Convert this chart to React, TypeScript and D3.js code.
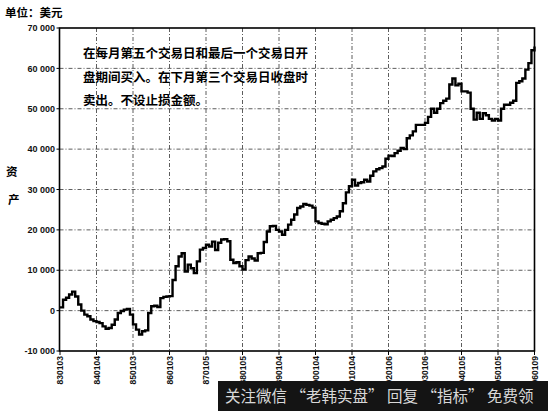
import React from "react";
import * as d3 from "d3";

const title = "单位：美元";
const yTitle = ["资", "产"];
const noteLines = [
  "在每月第五个交易日和最后一个交易日开",
  "盘期间买入。在下月第三个交易日收盘时",
  "卖出。不设止损金额。",
];
const watermark = "关注微信 “老韩实盘” 回复 “指标” 免费领";

const xTickLabels = [
  "830103", "840104", "850103", "860103", "870105", "880105", "890104",
  "900104", "910104", "920106", "930106", "940105", "950105", "960109",
];
const yTicks = [-10000, 0, 10000, 20000, 30000, 40000, 50000, 60000, 70000];

// monthly equity, Jan 1983 .. Jan 1996
const equity = [
  800, 2700, 3200, 4000, 4700, 3500, 1500, 0, -1000, -1400, -2200, -2600,
  -2800, -3100, -3900, -4500, -4300, -3500, -2200, -600, -100, 250, 400, -1000,
  -3400, -4700, -5900, -5100, -4900, -600, 1100, 1200, 900, 3100, 3400, 3500,
  3600, 7600, 11000, 13400, 14200, 9700, 11400, 10500, 9300, 12200, 15100, 15500,
  16300, 15900, 17100, 15000, 16800, 17600, 17700, 17200, 12600, 11800, 12000, 11000,
  10200, 12500, 13400, 12900, 12400, 14200, 14300, 17000, 19600, 20900, 21000, 20000,
  19600, 18800, 20000, 21300, 22500, 23800, 25400, 25800, 26400, 26200, 26000, 25500,
  22100, 21700, 21500, 21400, 22100, 22500, 22900, 23300, 24600, 26600, 29300, 30800,
  32400, 31000, 31600, 31800, 32400, 32000, 33400, 34500, 35000, 35300, 35700, 37600,
  38400, 38300, 39000, 39600, 40300, 40000, 42700, 43400, 44400, 46000, 46000, 46000,
  46500, 48000, 50000, 49000, 50000, 51400, 52000, 52500, 56000, 57500, 55800, 56200,
  54300, 54300, 54000, 50000, 47300, 49000, 47500, 48900, 48400, 47500, 47100, 47500,
  47100, 50000, 51000, 51000, 51500, 52000, 56400, 56800, 57500, 59700, 61300, 64500,
  65400,
];

const fmt = (v: number) => {
  if (v === 0) return "0";
  const s = Math.abs(v).toString();
  const t = s.slice(0, s.length - 3) + " " + s.slice(s.length - 3);
  return (v < 0 ? "-" : "") + t;
};

export default function App() {
  const W = 548, H = 411;
  const L = 59.5, R = 534.5, T = 28, B = 351;
  const x = d3.scaleLinear().domain([0, equity.length - 1]).range([L + 0.5, R]);
  const y = d3.scaleLinear().domain([-10000, 70000]).range([B, T]);
  const line = d3
    .line<number>()
    .x((_, i) => x(i))
    .y((d) => y(d))
    .curve(d3.curveStepAfter);
  const xTickPos = xTickLabels.map((_, i) => x(i * 12));
  const numFont = "'Liberation Sans', Arial, sans-serif";
  const cjk = "'Noto Sans CJK SC', sans-serif";
  const grid = "#333";
  return (
    <svg width={W} height={H} style={{ position: "absolute", left: 0, top: 0, background: "#fff" }}>
      <rect x={0} y={0} width={W} height={H} fill="#fff" />
      {/* grid */}
      {yTicks.slice(1, -1).map((v) => (
        <line key={"gy" + v} x1={L} x2={R} y1={y(v)} y2={y(v)} stroke={grid} strokeWidth={0.8} strokeDasharray="4,2,1,2" />
      ))}
      {xTickPos.slice(1, -1).map((px, i) => (
        <line key={"gx" + i} x1={px} x2={px} y1={T} y2={B} stroke={grid} strokeWidth={0.8} strokeDasharray="4,2,1,2" />
      ))}
      {/* frame */}
      <rect x={L} y={T} width={R - L} height={B - T} fill="none" stroke="#000" strokeWidth={1.6} />
      {/* y ticks */}
      {yTicks.map((v) => (
        <g key={"yt" + v}>
          <line x1={L - 3} x2={L} y1={y(v)} y2={y(v)} stroke="#000" strokeWidth={1} />
          <text x={55} y={y(v)} dy="0.35em" textAnchor="end" fontFamily={numFont} fontWeight="bold" fontSize={9} fill="#111">
            {fmt(v)}
          </text>
        </g>
      ))}
      {/* x ticks */}
      {xTickLabels.map((lab, i) => (
        <g key={"xt" + i}>
          <line x1={xTickPos[i]} x2={xTickPos[i]} y1={B} y2={B + 4} stroke="#000" strokeWidth={1} />
          <text
            transform={`translate(${xTickPos[i] + 3},${B + 5}) rotate(-90)`}
            textAnchor="end"
            fontFamily={numFont}
            fontWeight="bold"
            fontSize={8.5}
            fill="#111"
          >
            {lab}
          </text>
        </g>
      ))}
      {/* series */}
      <path d={line(equity) || ""} fill="none" stroke="#000" strokeWidth={2.4} strokeLinejoin="miter" />
      {/* texts */}
      <text x={5} y={17} fontFamily={cjk} fontWeight="bold" fontSize={11.5} fill="#000">{title}</text>
      <text x={6} y={176} fontFamily={cjk} fontWeight="bold" fontSize={11.5} fill="#000">{yTitle[0]}</text>
      <text x={8} y={204} fontFamily={cjk} fontWeight="bold" fontSize={11.5} fill="#000">{yTitle[1]}</text>
      {noteLines.map((s, i) => (
        <text key={"n" + i} x={83} y={58 + i * 23.5} fontFamily={cjk} fontWeight="bold" fontSize={12.5} fill="#000">
          {s}
        </text>
      ))}
      {/* watermark */}
      <rect x={218} y={381} width={W - 218} height={H - 381} fill="#141414" />
      <text x={225} y={402} fontFamily={cjk} fontSize={15.5} fill="#d8d8d8">{watermark}</text>
    </svg>
  );
}
